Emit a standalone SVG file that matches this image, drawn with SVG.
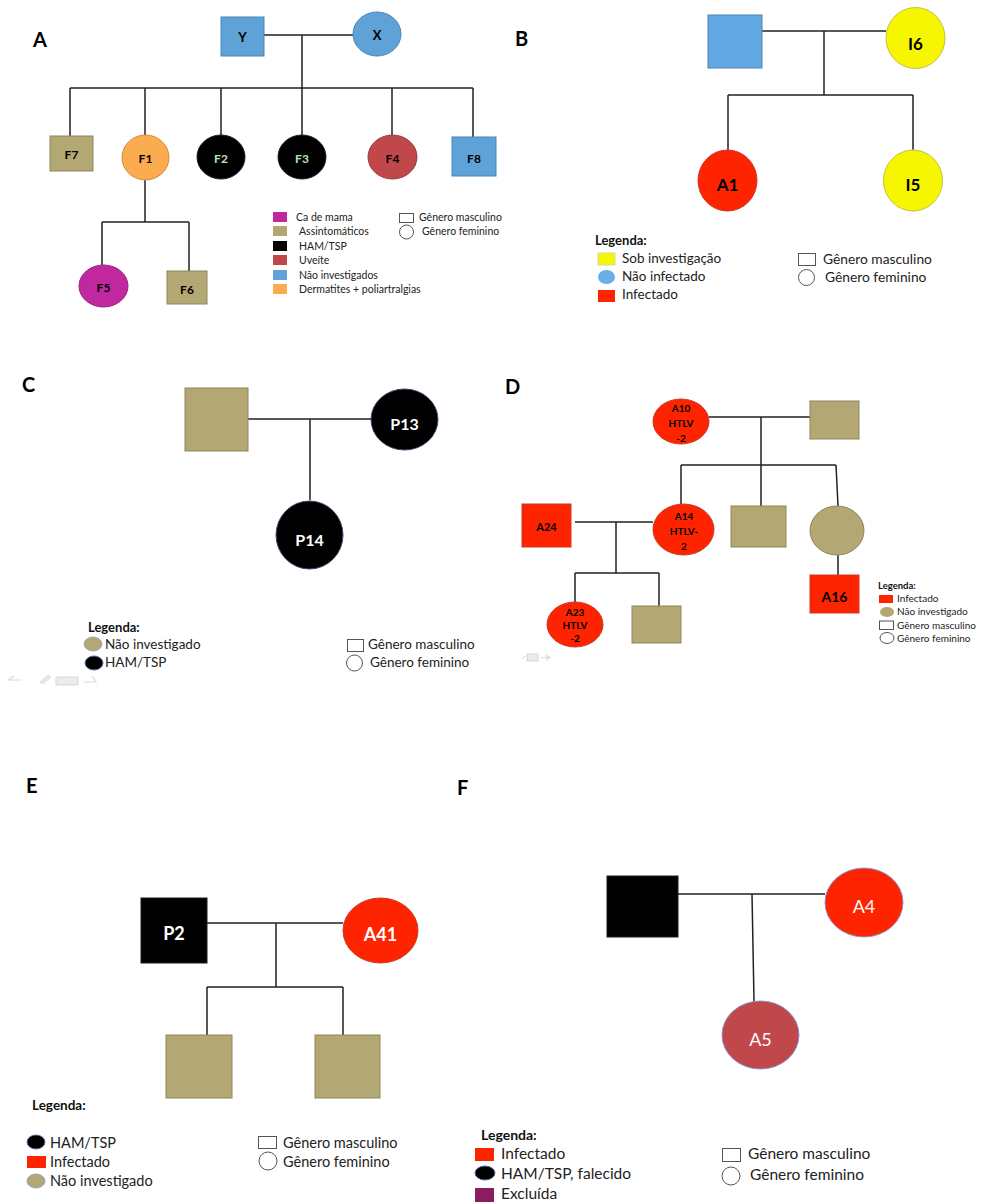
<svg xmlns="http://www.w3.org/2000/svg" width="991" height="1204" viewBox="0 0 991 1204">
<style>
text{font-family:Lato,"Open Sans","Liberation Sans",sans-serif;fill:#222;dominant-baseline:central}
.pl{font-size:20px;font-weight:700;fill:#000}
.lk{fill:none;stroke:#222;stroke-width:1.5}
.kh{fill:#b3a873;stroke:#8e865c;stroke-width:1}
.bl{fill:#5fa2d8;stroke:#4a85b6;stroke-width:1}
.bk{fill:#000;stroke:#1a1a2a;stroke-width:1}
.rd{fill:#ff2400;stroke:#c83a2a;stroke-width:1}
.uv{fill:#c0474a;stroke:#9a3a3c;stroke-width:1}
.yl{fill:#f6f600;stroke:#c6c040;stroke-width:1}
.or{fill:#fbac50;stroke:#d08c40;stroke-width:1}
.mg{fill:#c128a0;stroke:#9a2080;stroke-width:1}
.pu{fill:#8b1c60}
.ol{fill:#fff;stroke:#555;stroke-width:1}
.nb{font-weight:700;text-anchor:middle;fill:#000}
.nw{font-weight:700;text-anchor:middle;fill:#fff}
.lg{font-weight:700;fill:#111}
.ic{fill:#e4e4e4;stroke:#c8c8c8;stroke-width:1}
</style>

<!-- ================= PANEL A ================= -->
<text class="pl" x="33" y="39">A</text>
<g id="A-connectors">
<path class="lk" d="M264 35H353M302 35V88M70 88H473M70 88V136M145 88V135M221 88V135M302 88V135M392 88V135M473 88V137"/>
<path class="lk" d="M145 180V222M102 222H189M102 222V265M189 222V271"/>
</g>
<g id="A-Y"><rect class="bl" x="221" y="17" width="43" height="39"/><text class="nb" x="242.5" y="37" font-size="13">Y</text></g>
<g id="A-X"><ellipse class="bl" cx="377" cy="34" rx="24" ry="22"/><text class="nb" x="377" y="35" font-size="13">X</text></g>
<g id="A-F7"><rect class="kh" x="50" y="136" width="43" height="35"/><text class="nb" x="71.5" y="154" font-size="12">F7</text></g>
<g id="A-F1"><ellipse class="or" cx="145.5" cy="157.5" rx="23.5" ry="22.5"/><text class="nb" x="145.5" y="158" font-size="12">F1</text></g>
<g id="A-F2"><ellipse class="bk" cx="221" cy="157" rx="24" ry="22"/><text class="nb" x="221" y="158" font-size="12" style="fill:#b4e6bc">F2</text></g>
<g id="A-F3"><ellipse class="bk" cx="302" cy="157" rx="24" ry="22"/><text class="nb" x="302" y="158" font-size="12" style="fill:#b4e6bc">F3</text></g>
<g id="A-F4"><ellipse class="uv" cx="392.5" cy="157" rx="24.5" ry="22"/><text class="nb" x="392.5" y="158" font-size="12">F4</text></g>
<g id="A-F8"><rect class="bl" x="452" y="137" width="44" height="39"/><text class="nb" x="474" y="158" font-size="12">F8</text></g>
<g id="A-F5"><ellipse class="mg" cx="103.5" cy="286" rx="24.5" ry="21"/><text class="nb" x="103.5" y="287" font-size="12">F5</text></g>
<g id="A-F6"><rect class="kh" x="167" y="271" width="40" height="33"/><text class="nb" x="187" y="289" font-size="12">F6</text></g>
<g id="A-legend">
<rect class="mg" x="273" y="212" width="14" height="10" style="stroke:none"/><text x="296" y="217" font-size="10.5">Ca de mama</text>
<rect class="kh" x="273" y="226" width="14" height="10" style="stroke:none"/><text x="299" y="231" font-size="10.5">Assintomáticos</text>
<rect x="273" y="241" width="14" height="10" fill="#000"/><text x="299" y="246" font-size="10.5">HAM/TSP</text>
<rect class="uv" x="273" y="255" width="14" height="10" style="stroke:none"/><text x="299" y="260" font-size="10.5">Uveíte</text>
<rect class="bl" x="273" y="270" width="14" height="10" style="stroke:none"/><text x="299" y="275" font-size="10.5">Não investigados</text>
<rect class="or" x="273" y="284" width="14" height="10" style="stroke:none"/><text x="299" y="289" font-size="10.5">Dermatites + poliartralgias</text>
<rect class="ol" x="399.5" y="213.5" width="14" height="9"/><text x="419" y="217" font-size="10.5">Gênero masculino</text>
<circle class="ol" cx="406.5" cy="232" r="7"/><text x="422" y="231" font-size="10.5">Gênero feminino</text>
</g>

<!-- ================= PANEL B ================= -->
<text class="pl" x="515" y="38">B</text>
<g id="B-connectors"><path class="lk" d="M762 31H886M824 31V95M728 95H913M728 95V150M913 95V150"/></g>
<g id="B-father"><rect class="bl" x="708" y="15" width="54" height="53" style="fill:#62a8e3"/></g>
<g id="B-I6"><ellipse class="yl" cx="915.5" cy="38" rx="29.5" ry="30.5"/><text class="nb" x="915.5" y="43" font-size="17">I6</text></g>
<g id="B-A1"><ellipse class="rd" cx="727.5" cy="180.5" rx="29.5" ry="30.5"/><text class="nb" x="727.5" y="184" font-size="17">A1</text></g>
<g id="B-I5"><ellipse class="yl" cx="913" cy="180.5" rx="29.5" ry="30.5"/><text class="nb" x="913" y="184" font-size="17">I5</text></g>
<g id="B-legend">
<text class="lg" x="595" y="240" font-size="13">Legenda:</text>
<rect class="yl" x="598" y="253" width="17" height="12" style="stroke:#d8d8a0"/><text x="622" y="258" font-size="13.5">Sob investigação</text>
<ellipse cx="606.5" cy="277" rx="8.5" ry="7" fill="#69aee8"/><text x="622" y="276" font-size="13.5">Não infectado</text>
<rect class="rd" x="598" y="290" width="17" height="12" style="stroke:none"/><text x="622" y="294" font-size="13.5">Infectado</text>
<rect class="ol" x="798.5" y="253.5" width="17" height="12"/><text x="823" y="258" font-size="13.8">Gênero masculino</text>
<circle class="ol" cx="806.5" cy="277.5" r="8"/><text x="825" y="276" font-size="13.8">Gênero feminino</text>
</g>

<!-- ================= PANEL C ================= -->
<text class="pl" x="22" y="384">C</text>
<g id="C-connectors"><path class="lk" d="M248 419H371M310 419V500"/></g>
<g id="C-father"><rect class="kh" x="185" y="388" width="63" height="63"/></g>
<g id="C-P13"><ellipse class="bk" cx="404.5" cy="419.5" rx="33.5" ry="30.5" style="stroke:#3a4a6a"/><text class="nw" x="404.5" y="423" font-size="16">P13</text></g>
<g id="C-P14"><ellipse class="bk" cx="309.5" cy="535" rx="33.5" ry="34" style="stroke:#3a4a6a"/><text class="nw" x="309.5" y="539" font-size="16">P14</text></g>
<g id="C-legend">
<text class="lg" x="88" y="627" font-size="13">Legenda:</text>
<ellipse cx="93" cy="644" rx="9" ry="7" fill="#b3a873" stroke="#9aa8c0" stroke-width="1"/><text x="105" y="644" font-size="13.5">Não investigado</text>
<ellipse cx="94" cy="663" rx="9" ry="7" fill="#000" stroke="#5a6a9a" stroke-width="1"/><text x="105" y="662" font-size="13.5">HAM/TSP</text>
<rect class="ol" x="347.5" y="639.5" width="16" height="12"/><text x="368" y="644" font-size="13.5">Gênero masculino</text>
<circle class="ol" cx="354.5" cy="663" r="8"/><text x="370" y="662" font-size="13.5">Gênero feminino</text>
</g>
<g id="C-icons" opacity="0.7">
<path d="M8 680L14 676M8 680H22" fill="none" stroke="#ccc" stroke-width="1.2"/>
<path d="M40 682L48 675L51 677L43 684Z" fill="#ddd" stroke="#ccc" stroke-width="0.8"/>
<rect class="ic" x="56" y="677" width="22" height="8"/>
<path d="M84 682H96L92 676" fill="none" stroke="#ccc" stroke-width="1.2"/>
</g>

<!-- ================= PANEL D ================= -->
<text class="pl" x="505" y="386">D</text>
<g id="D-connectors"><path class="lk" d="M709 417H810M761 417V465M681 465H836M681 465V504M761 465V506M836 465L838 506M575 522H653M616 522V573M575 573H659M575 573V602M659 573V606M838 555V575"/></g>
<g id="D-A10"><ellipse class="rd" cx="681" cy="421.5" rx="28" ry="22.5"/><text class="nb" x="681" y="408" font-size="10">A10</text><text class="nb" x="681" y="423" font-size="10">HTLV</text><text class="nb" x="681" y="438" font-size="10">-2</text></g>
<g id="D-father"><rect class="kh" x="810" y="401" width="49" height="38"/></g>
<g id="D-A14"><ellipse class="rd" cx="683.5" cy="529.5" rx="30.5" ry="25.5"/><text class="nb" x="684" y="516" font-size="10">A14</text><text class="nb" x="684" y="531" font-size="10">HTLV-</text><text class="nb" x="684" y="546" font-size="10">2</text></g>
<g id="D-son"><rect class="kh" x="731" y="506" width="55" height="41"/></g>
<g id="D-daughter"><ellipse class="kh" cx="837" cy="530.5" rx="27" ry="24.5"/></g>
<g id="D-A24"><rect class="rd" x="522" y="504" width="49" height="43"/><text class="nb" x="546.5" y="526" font-size="11">A24</text></g>
<g id="D-A23"><ellipse class="rd" cx="575" cy="624.5" rx="28" ry="22.5"/><text class="nb" x="575" y="612" font-size="10">A23</text><text class="nb" x="575" y="625" font-size="10">HTLV</text><text class="nb" x="575" y="638" font-size="10">-2</text></g>
<g id="D-grandson"><rect class="kh" x="632" y="606" width="49" height="37"/></g>
<g id="D-A16"><rect class="rd" x="810" y="575" width="49" height="38"/><text class="nb" x="834.5" y="596" font-size="14">A16</text></g>
<g id="D-legend">
<text class="lg" x="878" y="585" font-size="9.5">Legenda:</text>
<rect class="rd" x="879" y="595" width="14" height="8" style="stroke:none"/><text x="897" y="598" font-size="10">Infectado</text>
<ellipse cx="887" cy="612" rx="7" ry="5" fill="#b3a873"/><text x="897" y="611" font-size="10">Não investigado</text>
<rect class="ol" x="879.5" y="621" width="14" height="8.5"/><text x="897" y="624.5" font-size="10">Gênero masculino</text>
<ellipse class="ol" cx="887" cy="638" rx="7" ry="5.5"/><text x="897" y="638" font-size="10">Gênero feminino</text>
</g>
<g id="D-icons" opacity="0.7">
<path d="M522 659L525 656" stroke="#bbb" stroke-width="1"/>
<rect class="ic" x="527" y="654" width="11" height="7"/>
<path d="M541 657H547L545 654L551 657.5L545 661L547 658H541Z" fill="#ccc"/>
</g>

<!-- ================= PANEL E ================= -->
<text class="pl" x="26" y="785">E</text>
<g id="E-connectors"><path class="lk" d="M207 923H343M276 923V987M207 987H343M207 987V1035M343 987V1035"/></g>
<g id="E-P2"><rect class="bk" x="141" y="898" width="66" height="65"/><text class="nw" x="174" y="933" font-size="18">P2</text></g>
<g id="E-A41"><ellipse class="rd" cx="380.5" cy="930.5" rx="37.5" ry="32.5"/><text class="nw" x="380.5" y="934" font-size="18">A41</text></g>
<g id="E-son1"><rect class="kh" x="166" y="1035" width="66" height="63"/></g>
<g id="E-son2"><rect class="kh" x="315" y="1035" width="65" height="63"/></g>
<g id="E-legend">
<text class="lg" x="32" y="1105" font-size="13.5">Legenda:</text>
<ellipse cx="36" cy="1142" rx="9" ry="7" fill="#000" stroke="#5a6a9a" stroke-width="1"/><text x="50" y="1142" font-size="14.5">HAM/TSP</text>
<rect x="27" y="1156" width="19" height="12" fill="#ff2400"/><text x="50" y="1161" font-size="14.5">Infectado</text>
<ellipse cx="36" cy="1181" rx="9" ry="7" fill="#b3a873" stroke="#9aa8c0" stroke-width="1"/><text x="50" y="1180" font-size="14.5">Não investigado</text>
<rect class="ol" x="258.5" y="1136.5" width="18" height="12"/><text x="283" y="1142" font-size="14.5">Gênero masculino</text>
<circle class="ol" cx="268" cy="1161" r="9"/><text x="283" y="1161" font-size="14.5">Gênero feminino</text>
</g>

<!-- ================= PANEL F ================= -->
<text class="pl" x="457" y="787">F</text>
<g id="F-connectors"><path class="lk" d="M678 894H825M752 894L754 1001"/></g>
<g id="F-father"><rect class="bk" x="607" y="876" width="71" height="61"/></g>
<g id="F-A4"><ellipse class="rd" cx="864" cy="902.5" rx="39" ry="34.5" style="stroke:#8a90c0"/><text x="864" y="906" font-size="18" text-anchor="middle" style="fill:#fff">A4</text></g>
<g id="F-A5"><ellipse class="uv" cx="760.5" cy="1035" rx="38.5" ry="34" style="stroke:#8a90c0"/><text x="760.5" y="1039" font-size="18" text-anchor="middle" style="fill:#fff">A5</text></g>
<g id="F-legend">
<text class="lg" x="481" y="1134" font-size="14">Legenda:</text>
<rect x="475" y="1148" width="19" height="13" fill="#ff2400"/><text x="501" y="1153" font-size="15.5">Infectado</text>
<ellipse cx="485" cy="1173" rx="10" ry="7" fill="#000" stroke="#5a6a9a" stroke-width="1"/><text x="501" y="1173" font-size="15.5">HAM/TSP, falecido</text>
<rect class="pu" x="475" y="1188" width="19" height="14"/><text x="501" y="1193" font-size="15.5">Excluída</text>
<rect class="ol" x="722.5" y="1148.5" width="18" height="13"/><text x="748" y="1153" font-size="15.5">Gênero masculino</text>
<circle class="ol" cx="731" cy="1176" r="9"/><text x="750" y="1174" font-size="15.5">Gênero feminino</text>
</g>
</svg>
